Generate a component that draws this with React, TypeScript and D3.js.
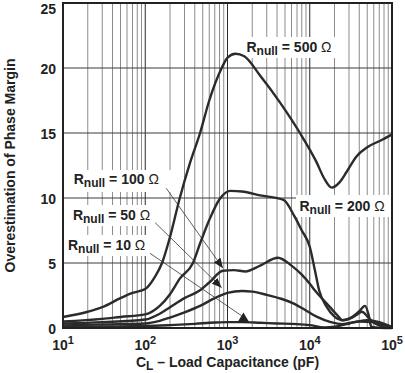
import React from 'react';
import * as d3 from 'd3';

// load capacitance (pF) and overestimation of phase margin, per Rnull
const c500 = [10, 20, 30, 50, 70, 100, 130, 160, 200, 263, 350, 464, 600, 850, 1000, 1250, 1600, 2500, 4400, 7600, 12000, 15000, 18500, 23000, 28000, 37000, 50000, 77000, 100000];
const pm500 = [0.85, 1.25, 1.6, 2.3, 2.7, 3.0, 3.9, 5.0, 7.0, 10, 12.7, 15, 17.5, 20, 20.8, 21.1, 20.9, 19.4, 17.3, 15, 12.8, 11.5, 10.8, 11.2, 12, 13.2, 13.9, 14.5, 14.9];

const c200 = [10, 30, 50, 100, 150, 200, 263, 380, 464, 600, 800, 1080, 1500, 2500, 4800, 6500, 8000, 10000, 11500, 13000, 16000, 20000, 25000, 32000, 40000, 47000, 52000, 56000, 70000, 100000];
const pm200 = [0.5, 0.7, 0.85, 1.05, 1.7, 2.6, 3.8, 5.0, 6.5, 8.3, 9.9, 10.55, 10.5, 10.2, 9.85, 8.6, 7.5, 6.25, 4.5, 2.9, 1.64, 0.87, 0.6, 0.8, 1.3, 1.7, 1.0, 0.1, 0.02, 0];

const c100 = [10, 30, 100, 150, 200, 300, 464, 600, 881, 1200, 1650, 2500, 4100, 6000, 8000, 10000, 11500, 16000, 21500, 25000, 30000, 37000, 43000, 50000, 60000, 75000, 100000];
const pm100 = [0.35, 0.45, 0.65, 1.1, 1.6, 2.3, 2.9, 3.5, 4.4, 4.45, 4.35, 4.8, 5.4, 4.8, 4.1, 3.4, 2.9, 1.9, 1.0, 0.6, 0.7, 1.0, 1.25, 0.9, 0.4, 0.15, 0.05];

const c50 = [10, 30, 100, 150, 200, 300, 464, 700, 1000, 1500, 2000, 3000, 4500, 6300, 9000, 12300, 18000, 25000, 35000, 50000, 70000, 90000, 100000];
const pm50 = [0.2, 0.28, 0.35, 0.55, 0.8, 1.2, 1.7, 2.3, 2.7, 2.85, 2.8, 2.55, 2.25, 1.9, 1.35, 0.85, 0.45, 0.3, 0.45, 0.6, 0.45, 0.2, 0.1];

const c10 = [10, 30, 100, 200, 400, 700, 1000, 1500, 2500, 4000, 7000, 10000, 15000, 20000, 30000, 40000, 60000, 80000, 100000];
const pm10 = [0.1, 0.12, 0.15, 0.22, 0.32, 0.42, 0.45, 0.45, 0.4, 0.35, 0.3, 0.22, 0.05, 0.1, 0.35, 0.5, 0.45, 0.2, 0.05];

const yTicks = [0, 5, 10, 15, 20, 25];
const xDecades = [1, 2, 3, 4, 5];

const W = 405;
const H = 373;
const FONT = 'Liberation Sans, Arial, sans-serif';

export default function App() {
  const x = d3.scaleLog().domain([10, 1e5]).range([63, 392]);
  const y = d3.scaleLinear().domain([0, 25]).range([328, 3]);

  const line = d3
    .line<[number, number]>()
    .x(d => x(d[0]))
    .y(d => y(d[1]))
    .curve(d3.curveMonotoneX);

  const series = [
    [c500, pm500],
    [c200, pm200],
    [c100, pm100],
    [c50, pm50],
    [c10, pm10],
  ].map(([c, p]) => c.map((v, i) => [v, p[i]] as [number, number]));

  const minor = x.ticks().filter(t => Math.abs(Math.log10(t) - Math.round(Math.log10(t))) > 1e-6);

  // label anchors in data space: [C, PM, text]
  const labels: [number, number, string][] = [
    [1700, 21.2, '500'],
    [7500, 9.0, '200'],
    [13.5, 11.1, '100'],
    [13.2, 8.3, '50'],
    [11.5, 6.0, '10'],
  ];
  const boxes: [number, number, number, number][] = [
    [242, 37, 96, 21],
    [296, 195, 95, 22],
    [68, 170, 104, 22],
    [68, 205, 92, 21],
    [64, 235, 92, 21],
  ];
  // leader lines [fromC, fromPM, toC, toPM]
  const leaders: [number, number, number, number][] = [
    [180, 10.75, 881, 4.6],
    [132, 8.1, 849, 3.1],
    [114, 5.75, 1480, 0.95],
  ];
  const tri = { c: 1560, pm: 0.42 };

  const label = (l: [number, number, string], i: number) => (
    <text key={i} x={x(l[0])} y={y(l[1])} fontFamily={FONT} fontSize={14} fontWeight="bold" fill="#222">
      R
      <tspan fontSize={12} dy={3}>null</tspan>
      <tspan dy={-3}>{` = ${l[2]} `}</tspan>
      <tspan fontWeight="normal">Ω</tspan>
    </text>
  );

  return (
    <svg width={W} height={H} style={{ position: 'absolute', left: 0, top: 0, background: '#fff' }}>
      <defs>
        <marker id="arr" viewBox="0 0 10 8" refX={10} refY={4} markerWidth={10} markerHeight={8} markerUnits="userSpaceOnUse" orient="auto">
          <path d="M0,0 L10,4 L0,8 Z" fill="#222" />
        </marker>
      </defs>
      {/* grid */}
      {minor.map((t, i) => (
        <line key={'m' + i} x1={x(t)} x2={x(t)} y1={y(25)} y2={y(0)} stroke="#8c8c8c" strokeWidth={1} />
      ))}
      {xDecades.map(d => (
        <line key={'M' + d} x1={x(10 ** d)} x2={x(10 ** d)} y1={y(25)} y2={y(0)} stroke="#2a2a2a" strokeWidth={1} />
      ))}
      {yTicks.map(t => (
        <line key={'h' + t} x1={x(10)} x2={x(1e5)} y1={y(t)} y2={y(t)} stroke="#3a3a3a" strokeWidth={1} />
      ))}
      {/* label backgrounds */}
      {boxes.map((b, i) => (
        <rect key={'b' + i} x={b[0]} y={b[1]} width={b[2]} height={b[3]} fill="#fff" />
      ))}
      {/* curves */}
      {series.map((s, i) => (
        <path key={'s' + i} d={line(s) || ''} fill="none" stroke="#2b2b2b" strokeWidth={2.4} strokeLinejoin="round" />
      ))}
      {/* frame */}
      <rect x={x(10)} y={y(25)} width={x(1e5) - x(10)} height={y(0) - y(25)} fill="none" stroke="#222" strokeWidth={2} />
      {/* leaders */}
      {leaders.map((l, i) => (
        <line key={'l' + i} x1={x(l[0])} y1={y(l[1])} x2={x(l[2])} y2={y(l[3])} stroke="#333" strokeWidth={0.8}
          markerEnd={i < 2 ? 'url(#arr)' : undefined} />
      ))}
      <path d={`M${x(tri.c) - 6},${y(tri.pm)} L${x(tri.c)},${y(tri.pm) - 10} L${x(tri.c) + 6},${y(tri.pm)} Z`} fill="#222" />
      {labels.map(label)}
      {/* y ticks */}
      {yTicks.map(t => (
        <text key={'yt' + t} x={56} y={Math.max(y(t) + 5.5, 13.5)} textAnchor="end" fontFamily={FONT} fontSize={14} fontWeight="bold" fill="#222">
          {t}
        </text>
      ))}
      {/* x ticks */}
      {xDecades.map(d => (
        <text key={'xt' + d} x={x(10 ** d)} y={350} textAnchor="middle" fontFamily={FONT} fontSize={14} fontWeight="bold" fill="#222">
          10<tspan fontSize={11} dy={-6}>{d}</tspan>
        </text>
      ))}
      <text x={(x(10) + x(1e5)) / 2} y={367} textAnchor="middle" fontFamily={FONT} fontSize={14} fontWeight="bold" fill="#222">
        C<tspan fontSize={12} dy={3}>L</tspan>
        <tspan dy={-3}> – Load Capacitance (pF)</tspan>
      </text>
      <text transform={`translate(15,${(y(0) + y(25)) / 2}) rotate(-90)`} textAnchor="middle" fontFamily={FONT} fontSize={14} fontWeight="bold" fill="#222">
        Overestimation of Phase Margin
      </text>
    </svg>
  );
}
